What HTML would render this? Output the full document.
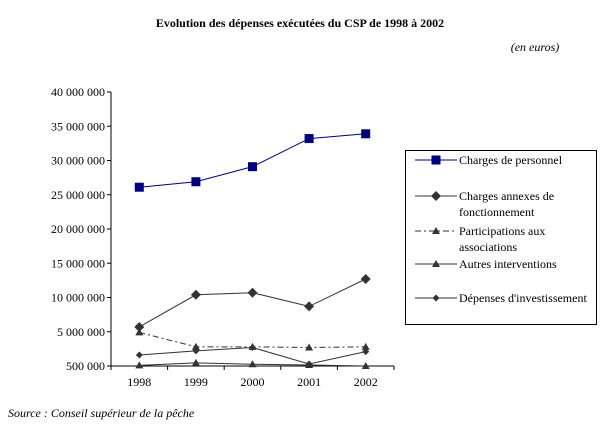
<!DOCTYPE html>
<html><head><meta charset="utf-8"><style>
body{margin:0;background:#fff;font-family:"Liberation Serif",serif;}
svg text{font-family:"Liberation Serif",serif;font-size:12px;fill:#000}
</style></head><body>
<svg width="604" height="437">
<text x="300" y="27" text-anchor="middle" font-weight="bold">Evolution des dépenses exécutées du CSP de 1998 à 2002</text>
<text x="535" y="51" text-anchor="middle" font-style="italic">(en euros)</text>
<text x="8" y="417" font-style="italic">Source : Conseil supérieur de la pêche</text>
<g id="axes"></g>
<g id="series"></g>
<g id="legend"></g>
</svg>
<script>
const categories=["1998","1999","2000","2001","2002"];
const yTicks=[0,5000000,10000000,15000000,20000000,25000000,30000000,35000000,40000000];
const yTickLabels=["500 000","5 500 000","10 500 000","15 500 000","20 000 000","25 000 000","30 000 000","35 000 000","40 500 000"];
const personnel=[26100000,26900000,29100000,33200000,33900000];
const annexes=[5700000,10400000,10700000,8700000,12700000];
const participations=[4900000,2800000,2800000,2700000,2800000];
const autres=[100000,450000,250000,150000,0];
const investissement=[1600000,2200000,2700000,300000,2100000];
const NS="http://www.w3.org/2000/svg";
const X0=111,X1=394,Y0=366,Y1=92,YMAX=40000000;
const xs=i=>X0+(X1-X0)/categories.length*(i+0.5);
const ys=v=>Y0-v/YMAX*(Y0-Y1);
function mk(t,a,p){const e=document.createElementNS(NS,t);for(const k in a)e.setAttribute(k,a[k]);p.appendChild(e);return e;}
const ax=document.getElementById('axes');
const yAxis=mk('line',{x1:X0,y1:Y1,x2:X0,y2:Y0,stroke:'#000'},ax);


const xAxis=mk('line',{x1:X0,y1:Y0,x2:X1,y2:Y0,stroke:'#000'},ax);


yTicks.forEach((v,i)=>{const y=ys(v);
 mk('line',{x1:X0-4,y1:y,x2:X0,y2:y,stroke:'#000'},ax);
 const t=mk('text',{x:X0-6,y:y+4,'text-anchor':'end'},ax);t.textContent=(i==0?"500 000":[0,"5 000 000","10 000 000","15 000 000","20 000 000","25 000 000","30 000 000","35 000 000","40 000 000"][i]);
 
 });
categories.forEach((c,i)=>{const bx=X0+(X1-X0)/categories.length*i;
 mk('line',{x1:bx,y1:Y0,x2:bx,y2:Y0+4,stroke:'#000'},ax);
 const t=mk('text',{x:xs(i),y:Y0+20,'text-anchor':'middle'},ax);t.textContent=c;
 
 });
mk('line',{x1:X1,y1:Y0,x2:X1,y2:Y0+4,stroke:'#000'},ax);
function marker(type,x,y,col,p){
 if(type=='square')return mk('rect',{x:x-4.5,y:y-4.5,width:9,height:9,fill:col},p);
 if(type=='diamond')return mk('polygon',{points:`${x},${y-5} ${x+5},${y} ${x},${y+5} ${x-5},${y}`,fill:col},p);
 if(type=='sdiamond')return mk('polygon',{points:`${x},${y-3.5} ${x+3.5},${y} ${x},${y+3.5} ${x-3.5},${y}`,fill:col},p);
 return mk('polygon',{points:`${x},${y-4} ${x+4},${y+3} ${x-4},${y+3}`,fill:col},p);}
const S=[
 {name:'Charges de personnel',data:personnel,col:'#000080',m:'square',dash:'',id:'series-personnel'},
 {name:'Charges annexes de|fonctionnement',data:annexes,col:'#333',m:'diamond',dash:'',id:'series-annexes'},
 {name:'Participations aux|associations',data:participations,col:'#333',m:'tri',dash:'6,3,2,3',id:'series-participations'},
 {name:'Autres interventions',data:autres,col:'#333',m:'tri',dash:'',id:'series-autres'},
 {name:"Dépenses d'investissement",data:investissement,col:'#333',m:'sdiamond',dash:'',id:'series-investissement'}];
const sg=document.getElementById('series');
S.forEach(s=>{const g=mk('g',{},sg);
 
 
 mk('polyline',{points:s.data.map((v,i)=>xs(i)+','+ys(v)).join(' '),fill:'none',stroke:s.col,'stroke-width':1,'stroke-dasharray':s.dash},g);
 s.data.forEach((v,i)=>{const m=marker(s.m,xs(i),ys(v),s.col,g);
  
  });});
const lg=document.getElementById('legend');


mk('rect',{x:405.5,y:150.5,width:191,height:174,fill:'#fff',stroke:'#000'},lg);
const ly=[160,196,231,264,298];
S.forEach((s,i)=>{const g=mk('g',{},lg);
 
 
 const y=ly[i];
 mk('line',{x1:415,y1:y,x2:457,y2:y,stroke:s.col,'stroke-dasharray':s.dash},g);
 marker(s.m,436,y,s.col,g);
 s.name.split('|').forEach((ln,j)=>{const t=mk('text',{x:459,y:y+4+j*16},g);t.textContent=ln;});});
</script>
</body></html>
